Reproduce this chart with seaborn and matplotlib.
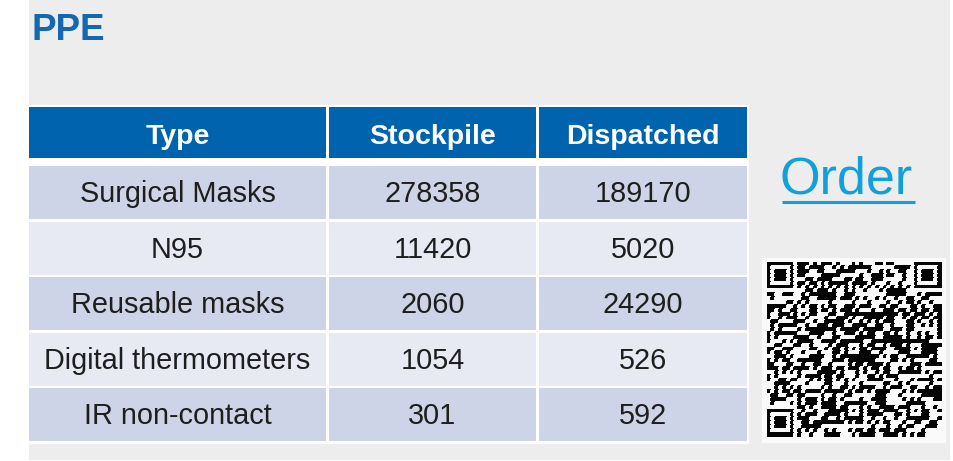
import hashlib

import matplotlib
matplotlib.use("Agg")
import numpy as np
import matplotlib.pyplot as plt
from matplotlib.patches import Rectangle
from matplotlib.colors import ListedColormap
import seaborn as sns

# table content
title = "PPE"
columns = ["Type", "Stockpile", "Dispatched"]
item_types = ["Surgical Masks", "N95", "Reusable masks",
              "Digital thermometers", "IR non-contact"]
stockpile = [278358, 11420, 2060, 1054, 301]
dispatched = [189170, 5020, 24290, 526, 592]
link_text = "Order"
qr_message = "https://ppe.example.org/order?type=surgical-masks&stock=278358&sent=189170"

sns.set_style("white")
plt.rcParams["font.family"] = ["Liberation Sans", "DejaVu Sans"]

HEADER = "#0063AE"
ROW_DARK = "#CDD4E7"
ROW_LIGHT = "#E8EAF3"
PANEL = "#EDEDED"
TEXT = "#1E1E1E"


def build_qr(message, n=45):
    """QR-looking matrix (version 7 layout) filled from a digest of the message."""
    qr = np.zeros((n, n), dtype=int)
    used = np.zeros((n, n), dtype=bool)

    def finder(r0, c0):
        for dr in range(-1, 8):
            for dc in range(-1, 8):
                r, c = r0 + dr, c0 + dc
                if 0 <= r < n and 0 <= c < n:
                    used[r, c] = True
                    if 0 <= dr <= 6 and 0 <= dc <= 6:
                        qr[r, c] = int(max(abs(dr - 3), abs(dc - 3)) != 2)

    for r0, c0 in [(0, 0), (0, n - 7), (n - 7, 0)]:
        finder(r0, c0)

    for k in range(8, n - 8):
        qr[6, k] = qr[k, 6] = int(k % 2 == 0)
        used[6, k] = used[k, 6] = True

    centers = [6, 22, 38]
    for cr in centers:
        for cc in centers:
            if used[cr, cc]:
                continue
            for dr in range(-2, 3):
                for dc in range(-2, 3):
                    qr[cr + dr, cc + dc] = int(max(abs(dr), abs(dc)) != 1)
                    used[cr + dr, cc + dc] = True

    fmt = [int(b) for b in "110011000101111"]
    spots_a = [(8, c) for c in (0, 1, 2, 3, 4, 5, 7, 8)] + \
              [(r, 8) for r in (7, 5, 4, 3, 2, 1, 0)]
    spots_b = [(r, 8) for r in range(n - 1, n - 8, -1)] + \
              [(8, c) for c in range(n - 8, n)]
    for spots in (spots_a, spots_b):
        for (r, c), b in zip(spots, fmt):
            qr[r, c] = b
            used[r, c] = True
    qr[n - 8, 8] = 1
    used[n - 8, 8] = True

    ver = [int(b) for b in "000111110010010100"]
    for i, b in enumerate(ver):
        a, m = i // 3, i % 3
        qr[a, n - 11 + m] = qr[n - 11 + m, a] = b
        used[a, n - 11 + m] = used[n - 11 + m, a] = True

    # codewords: message digests stand in for the error correction blocks
    digest = b""
    block = 0
    while len(digest) < 220:
        digest += hashlib.sha256(f"{message}#{block}".encode()).digest()
        block += 1
    bits = [(byte >> s) & 1 for byte in digest for s in range(7, -1, -1)]

    idx = 0
    col = n - 1
    upward = True
    while col > 0:
        if col == 6:
            col -= 1
        rows = range(n - 1, -1, -1) if upward else range(n)
        for r in rows:
            for c in (col, col - 1):
                if not used[r, c]:
                    mask = (r + c) % 2 == 0
                    qr[r, c] = bits[idx % len(bits)] ^ int(mask)
                    idx += 1
        upward = not upward
        col -= 2
    return qr


fig = plt.figure(figsize=(9.54, 4.61), dpi=100)
ax = fig.add_axes([0, 0, 1, 1])
ax.set_xlim(0, 954)
ax.set_ylim(461, 0)
ax.axis("off")

ax.add_patch(Rectangle((29, 0), 921, 460, facecolor=PANEL, edgecolor="none"))

ax.text(32, 40.5, title, fontsize=26.5, fontweight="bold", color="#1467B3",
        va="baseline", ha="left")

# table
col_left = [29, 329, 539]
col_right = [326, 536, 747]
ax.add_patch(Rectangle((29, 104.5), 720, 339.5, facecolor="white", edgecolor="none"))

for j, name in enumerate(columns):
    ax.add_patch(Rectangle((col_left[j], 107), col_right[j] - col_left[j], 51,
                           facecolor=HEADER, edgecolor="none"))
    ax.text((col_left[j] + col_right[j]) / 2, 143.5, name, fontsize=20.5,
            fontweight="bold", color="white", ha="center", va="baseline")

for i, (kind, s, d) in enumerate(zip(item_types, stockpile, dispatched)):
    top = 166 + 55.5 * i
    fill = ROW_DARK if i % 2 == 0 else ROW_LIGHT
    for j, val in enumerate([kind, str(s), str(d)]):
        ax.add_patch(Rectangle((col_left[j], top), col_right[j] - col_left[j], 53,
                               facecolor=fill, edgecolor="none"))
        ax.text((col_left[j] + col_right[j]) / 2, top + 36, val, fontsize=20.8,
                color=TEXT, ha="center", va="baseline")

# link
ax.text(779.5, 193, link_text, fontsize=37.5, color="#12A0DC",
        ha="left", va="baseline")
ax.hlines(201.5, 782, 915, color="#12A0DC", linewidth=2.2)

# qr code
ax.add_patch(Rectangle((762, 257.5), 184, 185, facecolor="#FAFAFA", edgecolor="none"))
qr = build_qr(qr_message)
side = 174.4
qax = fig.add_axes([767.3 / 954, 1 - (262.3 + side) / 461, side / 954, side / 461])
sns.heatmap(qr, ax=qax, cmap=ListedColormap(["#FAFAFA", "#050505"]),
            cbar=False, xticklabels=False, yticklabels=False,
            linewidths=0.3, linecolor="face")
qax.axis("off")

fig.savefig("out.png", dpi=100)
